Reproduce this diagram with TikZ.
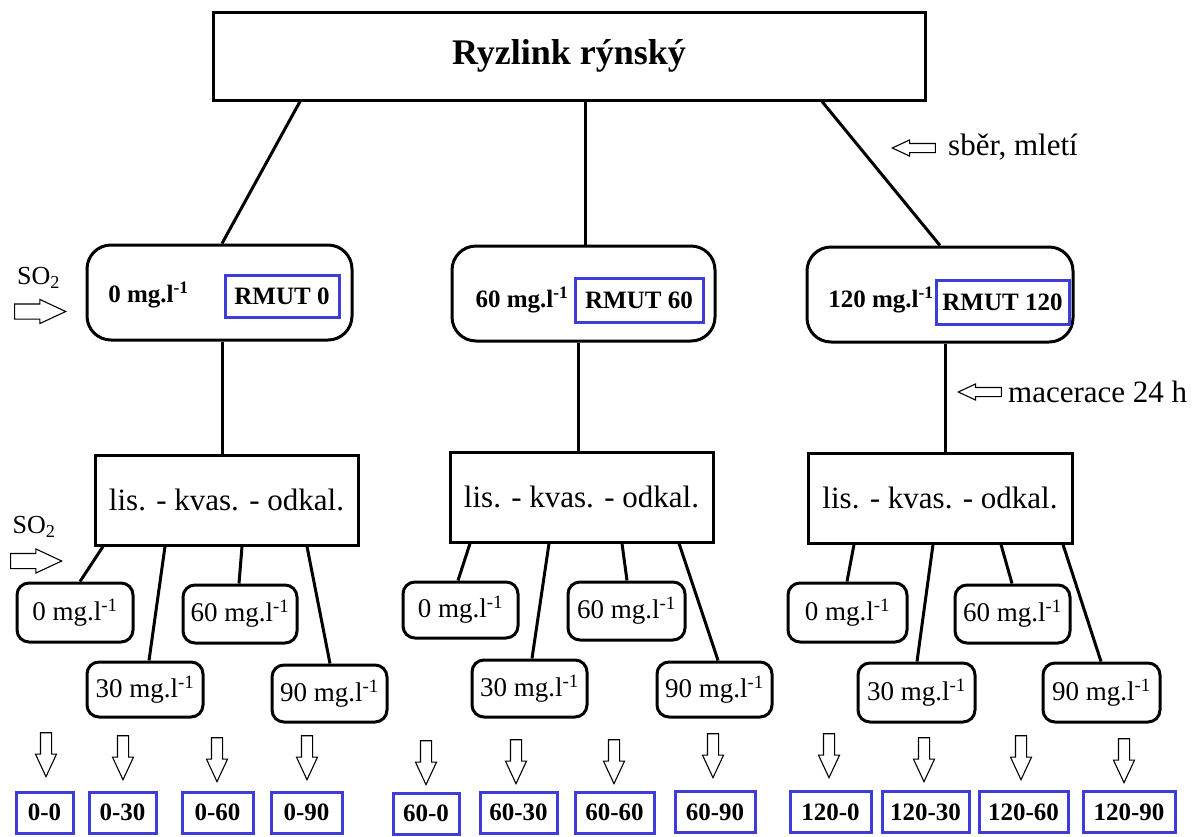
\documentclass[tikz,border=0pt]{standalone}
\usepackage{fontspec}
\setmainfont{Liberation Serif}
\usetikzlibrary{shapes.arrows}
\definecolor{rmutblue}{RGB}{62,62,214}
\newcommand{\mgl}{mg.l\textsuperscript{-1}}
\tikzset{
  dims/.style 2 args={minimum width=#1, minimum height=#2},
  plainbox/.style={draw, line width=3pt, inner sep=0pt},
  doseround/.style={plainbox, rounded corners=24pt},
  smallround/.style={plainbox, rounded corners=12pt, font=\fontsize{27}{30}\selectfont},
  stepbox/.style={plainbox, font=\fontsize{31}{36}\selectfont},
  rmutbox/.style={draw=rmutblue, line width=3pt, inner sep=0pt, font=\fontsize{25}{28}\selectfont\bfseries},
  conn/.style={line width=3pt},
  blockarrow/.style={single arrow, draw, line width=1.1pt, single arrow tip angle=50, anchor=tip},
  downarrow/.style={blockarrow, shape border rotate=270, minimum height=44pt, inner sep=5pt, single arrow head extend=5pt},
  leftarrow/.style={blockarrow, shape border rotate=180, minimum height=43pt, inner sep=4pt, single arrow head extend=3.5pt},
  rightarrow/.style={blockarrow, minimum height=51pt, inner sep=7pt, single arrow head extend=4.5pt},
  note/.style={font=\fontsize{31}{36}\selectfont, inner sep=0pt},
  so2/.style={font=\fontsize{26}{30}\selectfont, inner sep=0pt},
}

\begin{document}
\begin{tikzpicture}[x=1pt, y=-1pt]
\useasboundingbox (0,0) rectangle (1199,836);
% odruda
\node[plainbox, dims={712pt}{88pt}, font=\fontsize{36}{40}\selectfont\bfseries] (top) at (569,56) {Ryzlink rýnský};
\node[leftarrow] (harvest) at (891,148) {};
\node[note, anchor=west] (harvestlbl) at (948,147) {sběr, mletí};
% rmut se SO2
\node[doseround, dims={265pt}{95pt}] (r0) at (219.5,292.5) {};
\node[doseround, dims={263pt}{95pt}] (r60) at (583.5,293.5) {};
\node[doseround, dims={266pt}{95pt}] (r120) at (940,294.5) {};
\node[font=\fontsize{25}{28}\selectfont\bfseries] (d0) at (148.5,295) {0 \mgl};
\node[font=\fontsize{25}{28}\selectfont\bfseries] (d60) at (522,300) {60 \mgl};
\node[font=\fontsize{25}{28}\selectfont\bfseries] (d120) at (881,300) {120 \mgl};
\node[rmutbox, dims={114pt}{42pt}] (rm0) at (282,296) {RMUT 0};
\node[rmutbox, dims={128pt}{44pt}] (rm60) at (639,300) {RMUT 60};
\node[rmutbox, dims={133pt}{44pt}] (rm120) at (1002.5,302) {RMUT 120};
\node[so2] (so2a) at (38.5,278) {SO\textsubscript{2}};
\node[rightarrow] (so2arr) at (67,311.5) {};
\draw[conn] ([xshift=-269pt]top.south) -- ([xshift=2.5pt]r0.north);
\draw[conn] ([xshift=16pt]top.south) -- ([xshift=1.5pt]r60.north);
\draw[conn] ([xshift=253pt]top.south) -- (r120.north);
% lisovani, kvaseni, odkaleni
\node[stepbox, dims={263pt}{90pt}] (l0) at (226.5,500) {lis. - kvas. - odkal.};
\node[stepbox, dims={263pt}{90pt}] (l60) at (581.5,497) {lis. - kvas. - odkal.};
\node[stepbox, dims={264pt}{90pt}] (l120) at (940,498) {lis. - kvas. - odkal.};
\node[leftarrow] (macer) at (957,392) {};
\node[note, anchor=west] (macerlbl) at (1008,392) {macerace 24 h};
\draw[conn] ([xshift=2.5pt]r0.south) -- ([xshift=-4.5pt]l0.north);
\draw[conn] ([xshift=-5.5pt]r60.south) -- ([xshift=-3.5pt]l60.north);
\draw[conn] ([xshift=5pt]r120.south) -- ([xshift=5pt]l120.north);
% SO2 do mostu
\node[so2] (so2b) at (34,527) {SO\textsubscript{2}};
\node[rightarrow] (so2barr) at (63,561) {};
\node[smallround, dims={116pt}{59pt}] (a0) at (75,612.5) {0 \mgl};
\node[smallround, dims={116pt}{55pt}] (a30) at (145,689.5) {30 \mgl};
\node[smallround, dims={114pt}{58pt}] (a60) at (240,614) {60 \mgl};
\node[smallround, dims={115pt}{57pt}] (a90) at (329.5,693.5) {90 \mgl};
\node[smallround, dims={115pt}{56pt}] (b0) at (460.5,610) {0 \mgl};
\node[smallround, dims={115pt}{57pt}] (b30) at (529.5,688.5) {30 \mgl};
\node[smallround, dims={117pt}{58pt}] (b60) at (626.5,611) {60 \mgl};
\node[smallround, dims={115pt}{55pt}] (b90) at (714.5,689.5) {90 \mgl};
\node[smallround, dims={119pt}{59pt}] (c0) at (847.5,612.5) {0 \mgl};
\node[smallround, dims={117pt}{59pt}] (c30) at (916.5,692.5) {30 \mgl};
\node[smallround, dims={115pt}{58pt}] (c60) at (1012.5,614) {60 \mgl};
\node[smallround, dims={117pt}{59pt}] (c90) at (1101.5,692.5) {90 \mgl};
\draw[conn] ([xshift=-123.5pt]l0.south) -- ([xshift=5pt]a0.north);
\draw[conn] ([xshift=-61.5pt]l0.south) -- ([xshift=4pt]a30.north);
\draw[conn] ([xshift=15.5pt]l0.south) -- ([xshift=-1pt]a60.north);
\draw[conn] ([xshift=80.5pt]l0.south) -- ([xshift=0.5pt]a90.north);
\draw[conn] ([xshift=-111.5pt]l60.south) -- ([xshift=-2.5pt]b0.north);
\draw[conn] ([xshift=-32.5pt]l60.south) -- ([xshift=2.5pt]b30.north);
\draw[conn] ([xshift=40.5pt]l60.south) -- ([xshift=0.5pt]b60.north);
\draw[conn] ([xshift=97.5pt]l60.south) -- ([xshift=3.5pt]b90.north);
\draw[conn] ([xshift=-86pt]l120.south) -- ([xshift=-0.5pt]c0.north);
\draw[conn] ([xshift=-7pt]l120.south) -- ([xshift=0.5pt]c30.north);
\draw[conn] ([xshift=61pt]l120.south) -- ([xshift=-0.5pt]c60.north);
\draw[conn] ([xshift=123pt]l120.south) -- ([xshift=-0.5pt]c90.north);
% vzorky
\node[downarrow] (v1) at (46,778) {};
\node[downarrow] (v2) at (123,781) {};
\node[downarrow] (v3) at (217,783) {};
\node[downarrow] (v4) at (307,781) {};
\node[downarrow] (v5) at (426,786) {};
\node[downarrow] (v6) at (516,785) {};
\node[downarrow] (v7) at (614,785) {};
\node[downarrow] (v8) at (713,779) {};
\node[downarrow] (v9) at (829,779) {};
\node[downarrow] (v10) at (924,783) {};
\node[downarrow] (v11) at (1021,781) {};
\node[downarrow] (v12) at (1124,784) {};
\node[rmutbox, dims={57pt}{41pt}] (s1) at (44.5,812.5) {0-0};
\node[rmutbox, dims={67pt}{41pt}] (s2) at (122.5,812.5) {0-30};
\node[rmutbox, dims={71pt}{41pt}] (s3) at (217.5,812.5) {0-60};
\node[rmutbox, dims={71pt}{41pt}] (s4) at (306.5,812.5) {0-90};
\node[rmutbox, dims={66pt}{41pt}] (s5) at (426,813.5) {60-0};
\node[rmutbox, dims={77pt}{41pt}] (s6) at (518.5,812.5) {60-30};
\node[rmutbox, dims={79pt}{41pt}] (s7) at (614.5,812.5) {60-60};
\node[rmutbox, dims={80pt}{41pt}] (s8) at (715,812) {60-90};
\node[rmutbox, dims={81pt}{41pt}] (s9) at (830.5,812) {120-0};
\node[rmutbox, dims={87pt}{41pt}] (s10) at (925.5,812) {120-30};
\node[rmutbox, dims={89pt}{41pt}] (s11) at (1023.5,812) {120-60};
\node[rmutbox, dims={92pt}{41pt}] (s12) at (1129,812) {120-90};
\end{tikzpicture}
\end{document}
